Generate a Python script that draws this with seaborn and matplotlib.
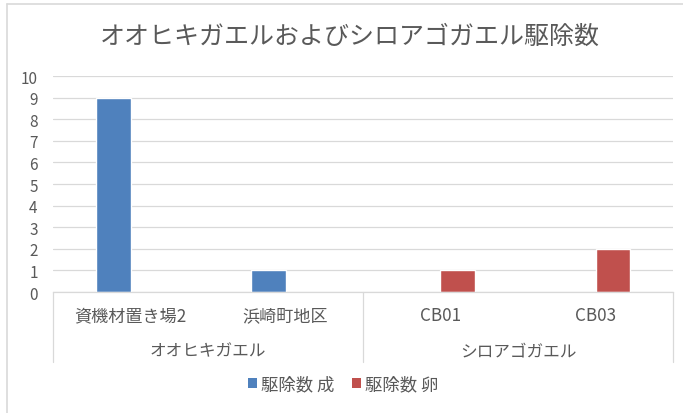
import matplotlib
matplotlib.use("Agg")
import matplotlib.pyplot as plt
import pandas as pd
import seaborn as sns
from matplotlib.lines import Line2D
from matplotlib.patches import Patch

# Chart data
title = "オオヒキガエルおよびシロアゴガエル駆除数"
sites = ["資機材置き場2", "浜崎町地区", "CB01", "CB03"]
species = ["オオヒキガエル", "シロアゴガエル"]
species_span = [(0, 1), (2, 3)]          # site index range belonging to each species
series_names = ["駆除数 成", "駆除数 卵"]
adults = [9, 1, 0, 0]
eggs = [0, 0, 1, 2]
y_ticks = list(range(0, 11))

colors = ["#4F81BD", "#C0504D"]
text_color = "#595959"
line_color = "#D9D9D9"

df = pd.DataFrame({
    "site": sites * 2,
    "series": [series_names[0]] * len(sites) + [series_names[1]] * len(sites),
    "count": adults + eggs,
})

sns.set_theme(style="white")
plt.rcParams["font.family"] = ["Noto Sans CJK JP", "DejaVu Sans"]

W, H = 683, 414
fig = plt.figure(figsize=(W / 100, H / 100), dpi=100)
fig.patch.set_facecolor("white")

# plot area in pixel terms: x 53..673, y 77..293
ax = fig.add_axes([53 / W, 1 - 293 / H, 620 / W, 216 / H])
sns.barplot(data=df, x="site", y="count", hue="series", order=sites,
            hue_order=series_names, palette=colors, width=0.45,
            saturation=1, errorbar=None, legend=False, ax=ax)

ax.set_xlim(-0.5, len(sites) - 0.5)
ax.set_ylim(0, 10)
ax.set_yticks(y_ticks)
ax.set_yticklabels([str(v) for v in y_ticks], fontsize=11, color=text_color)
ax.set_xticks([])
ax.set_xlabel("")
ax.set_ylabel("")
ax.tick_params(axis="y", length=0, pad=11)
ax.set_axisbelow(True)
ax.yaxis.grid(True, color=line_color, linewidth=0.9)
for side in ("left", "right", "top"):
    ax.spines[side].set_visible(False)
ax.spines["bottom"].set_color(line_color)
ax.spines["bottom"].set_linewidth(0.9)

# two-level category axis
trans = ax.get_xaxis_transform()
label_y = (293 - 316) / 216
group_y = (293 - 352) / 216
box_bottom = (293 - 363) / 216
for i, s in enumerate(sites):
    ax.text(i, label_y, s, transform=trans, ha="center", va="center",
            fontsize=12.3, color=text_color)
for name, (a, b) in zip(species, species_span):
    ax.text((a + b) / 2, group_y, name, transform=trans, ha="center",
            va="center", fontsize=12, color=text_color)
for xv in (-0.5, 1.5, 3.5):
    ax.plot([xv, xv], [0, box_bottom], transform=trans, color=line_color,
            linewidth=0.9, clip_on=False)

# title
fig.text(350 / W, 1 - 37 / H, title, ha="center", va="center",
         fontsize=18, color=text_color)

# legend
handles = [Patch(facecolor=c, edgecolor="none") for c in colors]
fig.legend(handles, series_names, loc="center", bbox_to_anchor=(343 / W, 1 - 385 / H),
           ncol=2, frameon=False, fontsize=12.5, labelcolor=text_color,
           handlelength=0.55, handleheight=0.55, handletextpad=0.2,
           columnspacing=1.0)

# chart border (top and left edges)
fig.add_artist(Line2D([7 / W, 7 / W], [0, 1 - 5 / H], transform=fig.transFigure,
                      color=line_color, linewidth=1.2))
fig.add_artist(Line2D([7 / W, 1], [1 - 5 / H, 1 - 5 / H], transform=fig.transFigure,
                      color=line_color, linewidth=1.2))

fig.savefig("out.png", dpi=100)
